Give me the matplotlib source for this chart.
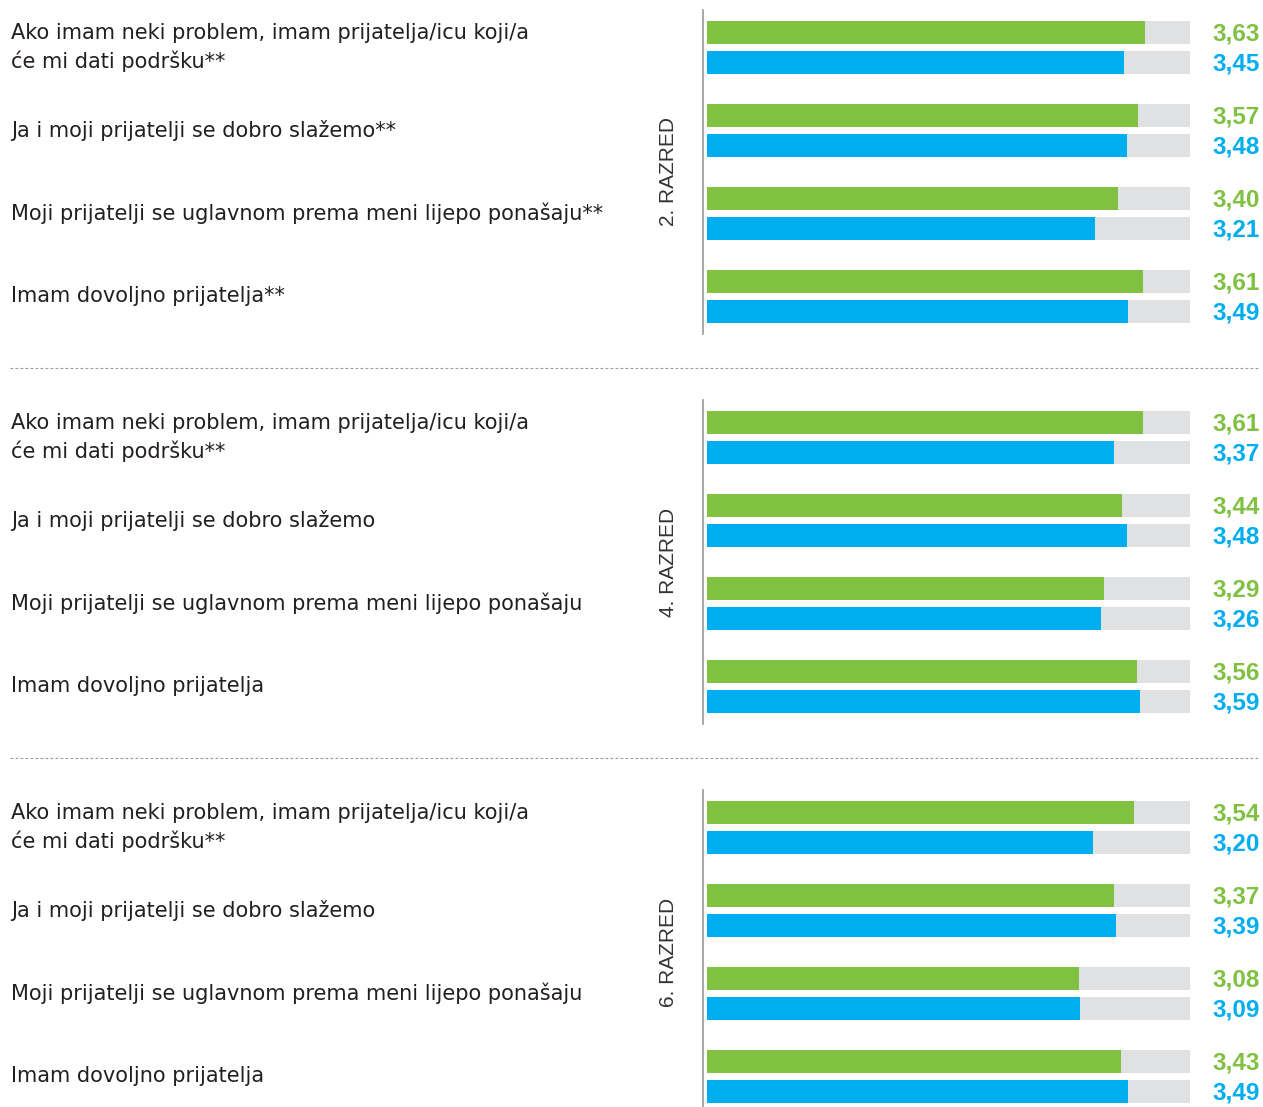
import matplotlib
matplotlib.use("Agg")
import matplotlib.pyplot as plt
from matplotlib.lines import Line2D
from matplotlib.transforms import blended_transform_factory

# podaci po razredima
razredi = ["2. RAZRED", "4. RAZRED", "6. RAZRED"]
tvrdnje = [
    ["Ako imam neki problem, imam prijatelja/icu koji/a\nće mi dati podršku**",
     "Ja i moji prijatelji se dobro slažemo**",
     "Moji prijatelji se uglavnom prema meni lijepo ponašaju**",
     "Imam dovoljno prijatelja**"],
    ["Ako imam neki problem, imam prijatelja/icu koji/a\nće mi dati podršku**",
     "Ja i moji prijatelji se dobro slažemo",
     "Moji prijatelji se uglavnom prema meni lijepo ponašaju",
     "Imam dovoljno prijatelja"],
    ["Ako imam neki problem, imam prijatelja/icu koji/a\nće mi dati podršku**",
     "Ja i moji prijatelji se dobro slažemo",
     "Moji prijatelji se uglavnom prema meni lijepo ponašaju",
     "Imam dovoljno prijatelja"],
]
zeleno = [
    [3.63, 3.57, 3.40, 3.61],
    [3.61, 3.44, 3.29, 3.56],
    [3.54, 3.37, 3.08, 3.43],
]
plavo = [
    [3.45, 3.48, 3.21, 3.49],
    [3.37, 3.48, 3.26, 3.59],
    [3.20, 3.39, 3.09, 3.49],
]
max_vrijednost = 4

GREEN = "#80C142"
BLUE = "#00AEEF"
GREY = "#E0E1E2"
TEXT = "#231F20"

W, H = 1263, 1107
fig = plt.figure(figsize=(W / 100, H / 100), dpi=100)
plt.rcParams["font.family"] = ["Liberation Sans", "DejaVu Sans"]


def fx(px):
    return px / W


def fy(px):
    return 1 - px / H


panel_h = 324
for p in range(3):
    top = 10 + 390 * p
    ax = fig.add_axes([fx(707), fy(top + panel_h), fx(1190) - fx(707), panel_h / H])
    ax.set_xlim(0, max_vrijednost)
    ax.set_ylim(panel_h, 0)
    ax.axis("off")

    y_g = [22.5 + 83 * i for i in range(4)]
    y_b = [52.5 + 83 * i for i in range(4)]
    ax.barh(y_g, [max_vrijednost] * 4, height=23, color=GREY)
    ax.barh(y_b, [max_vrijednost] * 4, height=23, color=GREY)
    ax.barh(y_g, zeleno[p], height=23, color=GREEN)
    ax.barh(y_b, plavo[p], height=23, color=BLUE)

    for yy, v in zip(y_g, zeleno[p]):
        ax.annotate(f"{v:.2f}".replace(".", ","), xy=(max_vrijednost, yy),
                    xytext=(50.5, -1.2), textcoords="offset points",
                    ha="right", va="center", fontsize=17.5, fontweight="bold",
                    color=GREEN)
    for yy, v in zip(y_b, plavo[p]):
        ax.annotate(f"{v:.2f}".replace(".", ","), xy=(max_vrijednost, yy),
                    xytext=(50.5, -1.2), textcoords="offset points",
                    ha="right", va="center", fontsize=17.5, fontweight="bold",
                    color=BLUE)

    # lijeve oznake
    tr = blended_transform_factory(fig.transFigure, ax.transData)
    for i, t in enumerate(tvrdnje[p]):
        ax.text(fx(11), (y_g[i] + y_b[i]) / 2, t, transform=tr, ha="left",
                va="center", fontsize=15, color=TEXT, linespacing=1.45,
                family="DejaVu Sans")

    # okomita linija
    fig.add_artist(Line2D([fx(703), fx(703)], [fy(top), fy(top + panel_h)],
                          color="#9A9A9A", lw=1.2))

    fig.text(fx(669), fy(top + panel_h / 2), razredi[p], rotation=90,
             ha="center", va="center", fontsize=15, color="#333333")

# isprekidane linije
for y in [368, 758]:
    fig.add_artist(Line2D([fx(10), fx(1258)], [fy(y), fy(y)], color="#9A9A9A",
                          lw=0.8, linestyle=(0, (2.5, 2))))

fig.savefig("out.png", dpi=100)
